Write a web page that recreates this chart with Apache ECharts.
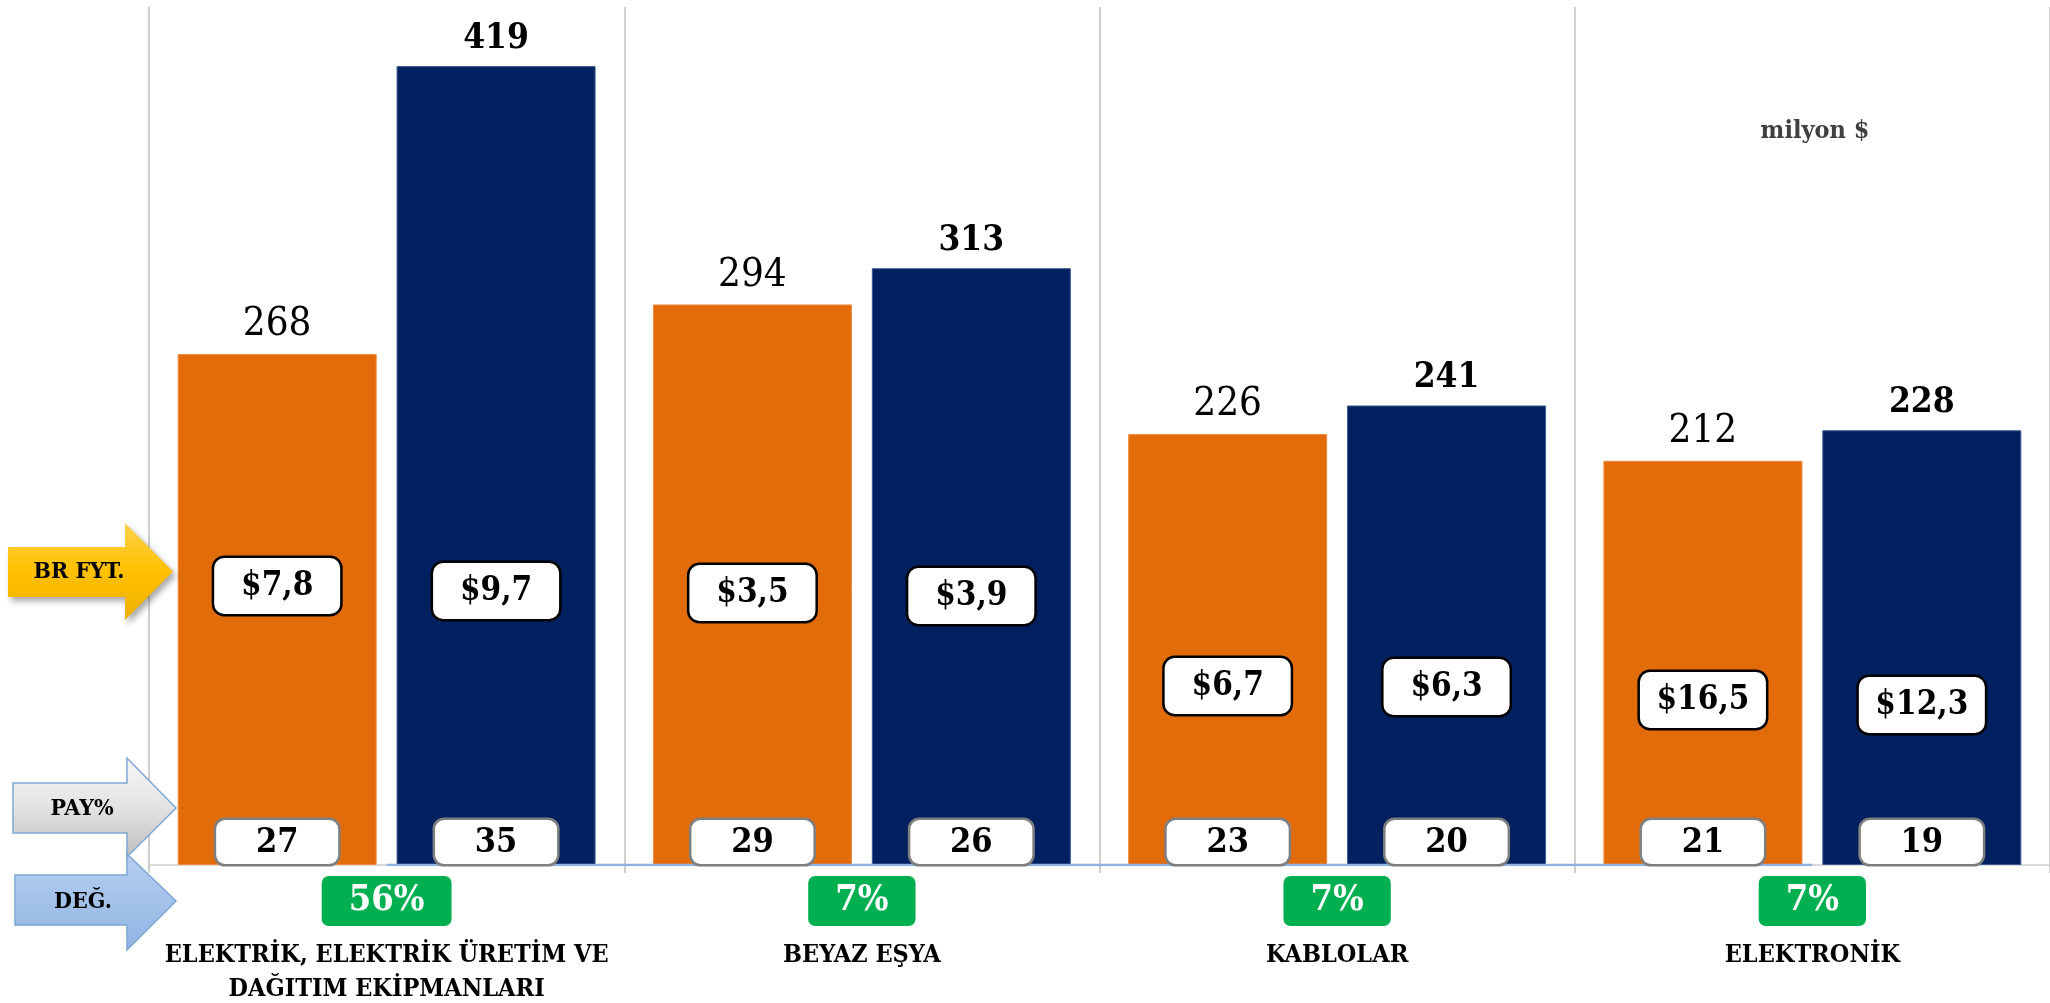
<!DOCTYPE html>
<html><head><meta charset="utf-8">
<script src="https://cdn.jsdelivr.net/npm/echarts@6/dist/echarts.min.js"></script>
<style>html,body{margin:0;padding:0;background:#fff}#c{width:2050px;height:1003px}</style>
</head><body><div id="c"></div>
<script>
// ---- data ----
const categories = ['ELEKTRİK, ELEKTRİK ÜRETİM VE\nDAĞITIM EKİPMANLARI', 'BEYAZ EŞYA', 'KABLOLAR', 'ELEKTRONİK'];
const valuesPrev = [268, 294, 226, 212];
const valuesCurr = [419, 313, 241, 228];
const unitPricePrev = ['$7,8', '$3,5', '$6,7', '$16,5'];
const unitPriceCurr = ['$9,7', '$3,9', '$6,3', '$12,3'];
const sharePrev = [27, 29, 23, 21];
const shareCurr = [35, 26, 20, 19];
const changeLabels = ['56%', '7%', '7%', '7%'];
const baseLineValues = [0, 0, 0, 0];

// ---- layout (px above baseline for the price boxes) ----
const pricePrevOffset = [251, 244, 151, 137];
const priceCurrOffset = [246, 241, 150, 132];

const FC = '"DejaVu Serif Condensed", "DejaVu Serif"';
const ORANGE = '#e36c0a', NAVY = '#002060';
const BW = 199, GAP = '10%';

const chart = echarts.init(document.getElementById('c'), null, {renderer: 'canvas'});

function catAxis(idx, show) {
  return {
    type: 'category', data: categories, gridIndex: 0, show: show,
    boundaryGap: true,
    axisLine: {show: true, lineStyle: {color: '#d9d9d9', width: 2}},
    axisTick: {show: true, length: 8, lineStyle: {color: '#bfbfbf', width: 1.5}},
    splitLine: {show: true, lineStyle: {color: '#bfbfbf', width: 1.5}},
    axisLabel: {
      show: true, interval: 0, margin: 11,
      formatter: (v, i) => {
        const lines = v.split('\n').map(s => '{n|' + s + '}').join('\n');
        return '{g|' + changeLabels[i] + '}\n{s| }\n' + lines;
      },
      rich: {
        g: {backgroundColor: '#00b050', color: '#fff', fontFamily: FC, fontWeight: 'bold', fontSize: 36,
            padding: [7, 27, 7, 27], borderRadius: 7},
        s: {fontSize: 4, lineHeight: 12},
        n: {fontFamily: FC, fontWeight: 'bold', fontSize: 25, color: '#000', lineHeight: 34}
      }
    }
  };
}

const priceLabel = (arr) => ({
  show: true, position: 'insideBottom',
  formatter: p => arr[p.dataIndex],
  fontFamily: FC, fontWeight: 'bold', fontSize: 33, color: '#000',
  backgroundColor: '#fff', borderColor: '#000', borderWidth: 2.5, borderRadius: 10,
  width: 94, align: 'center', padding: [12, 16, 11, 16]
});
const shareLabel = (arr) => ({
  show: true, position: 'insideBottom', distance: 1,
  formatter: p => String(arr[p.dataIndex]),
  fontFamily: FC, fontWeight: 'bold', fontSize: 34, color: '#000',
  backgroundColor: '#fff', borderColor: '#7f7f7f', borderWidth: 2.5, borderRadius: 9,
  width: 90, align: 'center', padding: [6, 16, 4, 16]
});

const transparentBar = (vals, xi, label, offsets) => ({
  type: 'bar', xAxisIndex: xi, yAxisIndex: 0, barWidth: BW, barGap: GAP, silent: true,
  itemStyle: {color: 'rgba(0,0,0,0)'},
  data: vals.map((v, i) => offsets ? {value: v, label: {distance: offsets[i]}} : v),
  label: label, z: 4
});

const arrow = (pts, fill, stroke, shadow) => ({
  type: 'polygon', shape: {points: pts},
  style: Object.assign({fill: fill, stroke: stroke || null, lineWidth: stroke ? 1.5 : 0},
    shadow ? {shadowBlur: 6, shadowOffsetX: 3, shadowOffsetY: 4, shadowColor: 'rgba(0,0,0,0.35)'} : {}),
  z: 10
});
const arrowText = (x, y, t) => ({
  type: 'text', x: x, y: y, z: 11,
  style: {text: t, fill: '#000', font: 'bold 23px ' + FC, align: 'center', verticalAlign: 'middle'}
});

chart.setOption({
  animation: false,
  backgroundColor: '#fff',
  grid: {left: 149, top: 7, width: 1904, height: 858, containLabel: false},
  xAxis: [catAxis(0, true), catAxis(1, false), catAxis(2, false)],
  yAxis: {type: 'value', min: 0, max: 450, show: false, splitLine: {show: false}},
  series: [
    {type: 'bar', xAxisIndex: 0, barWidth: BW, barGap: GAP, data: valuesPrev,
     itemStyle: {color: ORANGE, borderColor: '#f08a3c', borderWidth: 1}, z: 2,
     label: {show: true, position: 'top', distance: 9, fontFamily: FC, fontSize: 40, color: '#000'}},
    {type: 'bar', xAxisIndex: 0, barWidth: BW, barGap: GAP, data: valuesCurr,
     itemStyle: {color: NAVY, borderColor: '#3a5a94', borderWidth: 1}, z: 2,
     label: {show: true, position: 'top', distance: 10, fontFamily: FC, fontWeight: 'bold', fontSize: 35, color: '#000'}},
    {type: 'line', xAxisIndex: 0, data: baseLineValues, symbol: 'none', silent: true, z: 3,
     lineStyle: {color: '#8db3e2', width: 2.5}},
    transparentBar(valuesPrev, 1, priceLabel(unitPricePrev), pricePrevOffset),
    transparentBar(valuesCurr, 1, priceLabel(unitPriceCurr), priceCurrOffset),
    transparentBar(valuesPrev, 2, shareLabel(sharePrev)),
    transparentBar(valuesCurr, 2, shareLabel(shareCurr))
  ],
  graphic: [
    arrow([[8,547],[125,547],[125,523],[173,571.5],[125,620],[125,597],[8,597]],
      {type: 'linear', x: 0, y: 0, x2: 0, y2: 1, colorStops: [{offset: 0, color: '#ffd24a'}, {offset: 0.5, color: '#ffc000'}, {offset: 1, color: '#eeb000'}]},
      null, true),
    arrowText(79, 572, 'BR FYT.'),
    arrow([[13,783],[127,783],[127,758],[176,808],[127,857],[127,833],[13,833]],
      {type: 'linear', x: 0, y: 0, x2: 0, y2: 1, colorStops: [{offset: 0, color: '#f7f7f7'}, {offset: 0.5, color: '#e3e3e3'}, {offset: 1, color: '#bdbdbd'}]},
      '#7ea6d6', false),
    arrowText(82, 809, 'PAY%'),
    arrow([[15,875],[127,875],[127,854],[176,901],[127,950],[127,925],[15,925]],
      {type: 'linear', x: 0, y: 0, x2: 0, y2: 1, colorStops: [{offset: 0, color: '#b7cff0'}, {offset: 1, color: '#8fb4e3'}]},
      '#7ea6d6', false),
    arrowText(83, 902, 'DEĞ.'),
    {type: 'text', x: 1815, y: 131, z: 11,
     style: {text: 'milyon $', fill: '#404040', font: 'bold 25px ' + FC, align: 'center', verticalAlign: 'middle'}}
  ]
});
</script></body></html>
